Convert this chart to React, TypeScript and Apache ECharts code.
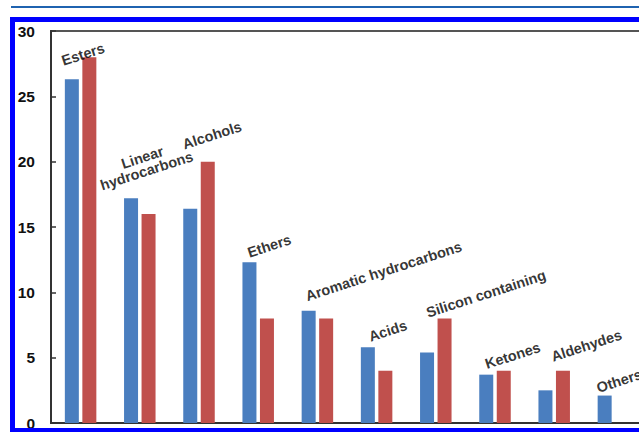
import React, { useEffect, useRef } from 'react';
import * as echarts from 'echarts';

// ---- data ----
const categories = [
  'Esters',
  'Linear hydrocarbons',
  'Alcohols',
  'Ethers',
  'Aromatic hydrocarbons',
  'Acids',
  'Silicon containing',
  'Ketones',
  'Aldehydes',
  'Others',
];
const blueValues = [26.3, 17.2, 16.4, 12.3, 8.6, 5.8, 5.4, 3.7, 2.5, 2.1];
const redValues = [28, 16, 20, 8, 8, 4, 8, 4, 4, 0];
const yMin = 0;
const yMax = 30;
const yStep = 5;

// ---- label layout tweaks (pixel nudges relative to category centre / taller bar top) ----
const labelNudge: [number, number][] = [
  [-19, 6],
  [15, -17],
  [-10, -13],
  [-7, -4],
  [-6.5, -9],
  [-4, -4],
  [-7, 0],
  [-7, -1],
  [1.8, -6],
  [-13.4, -4],
];

const FONT = "'Liberation Sans', Arial, sans-serif";

export default function App() {
  const ref = useRef<HTMLDivElement>(null);

  useEffect(() => {
    const chart = echarts.init(ref.current!, null, { renderer: 'svg' });
    const peaks = categories.map((_, i) => Math.max(blueValues[i], redValues[i]));
    const labelTexts = categories.map((c) =>
      c === 'Linear hydrocarbons' ? 'Linear\nhydrocarbons' : c
    );

    chart.setOption({
      animation: false,
      backgroundColor: '#ffffff',
      grid: {
        left: 51,
        top: 31,
        width: 592,
        height: 392,
        show: true,
        borderColor: '#555555',
        borderWidth: 2,
        outerBoundsMode: 'none',
        containLabel: false,
      },
      xAxis: {
        type: 'category',
        data: categories,
        axisLine: { show: true, lineStyle: { color: '#333333', width: 2 } },
        axisTick: { show: false },
        axisLabel: { show: false },
        splitLine: { show: false },
      },
      yAxis: {
        type: 'value',
        min: yMin,
        max: yMax,
        interval: yStep,
        axisLine: { show: true, lineStyle: { color: '#333333', width: 2 } },
        axisTick: { show: true, inside: true, length: 5, lineStyle: { color: '#333333', width: 1.5 } },
        splitLine: { show: false },
        axisLabel: {
          color: '#111111',
          fontFamily: FONT,
          fontWeight: 'bold',
          fontSize: 15.5,
          margin: 16,
        },
      },
      series: [
        {
          name: 'Series 1',
          type: 'bar',
          data: blueValues,
          barWidth: 14,
          barGap: '25%',
          itemStyle: { color: '#4a7ebf' },
          silent: true,
        },
        {
          name: 'Series 2',
          type: 'bar',
          data: redValues,
          barWidth: 14,
          itemStyle: { color: '#c0504d' },
          silent: true,
        },
        {
          name: 'labels',
          type: 'scatter',
          symbolSize: 0.1,
          itemStyle: { color: 'rgba(0,0,0,0)' },
          silent: true,
          z: 5,
          data: peaks.map((v, i) => ({
            value: v,
            label: {
              show: true,
              position: 'inside',
              formatter: labelTexts[i],
              align: i === 1 ? 'center' : 'left',
              verticalAlign: 'bottom',
              offset: labelNudge[i],
              rotate: 18,
              fontFamily: FONT,
              fontWeight: 'bold',
              fontSize: 14.5,
              lineHeight: i === 1 ? 14 : 16,
              color: '#000000',
            },
          })),
        },
      ],
      graphic: [
        {
          type: 'line',
          z: 100,
          shape: { x1: 11, y1: 7, x2: 639, y2: 7 },
          style: { stroke: '#1f63b0', lineWidth: 2 },
          silent: true,
        },
        {
          type: 'rect',
          z: 100,
          shape: { x: 12.5, y: 19.5, width: 700, height: 411 },
          style: { stroke: '#0000ff', lineWidth: 5, fill: null },
          silent: true,
        },
      ],
    });

    return () => chart.dispose();
  }, []);

  return (
    <div
      ref={ref}
      style={{ position: 'fixed', left: 0, top: 0, width: 639, height: 432, background: '#fff' }}
    />
  );
}
